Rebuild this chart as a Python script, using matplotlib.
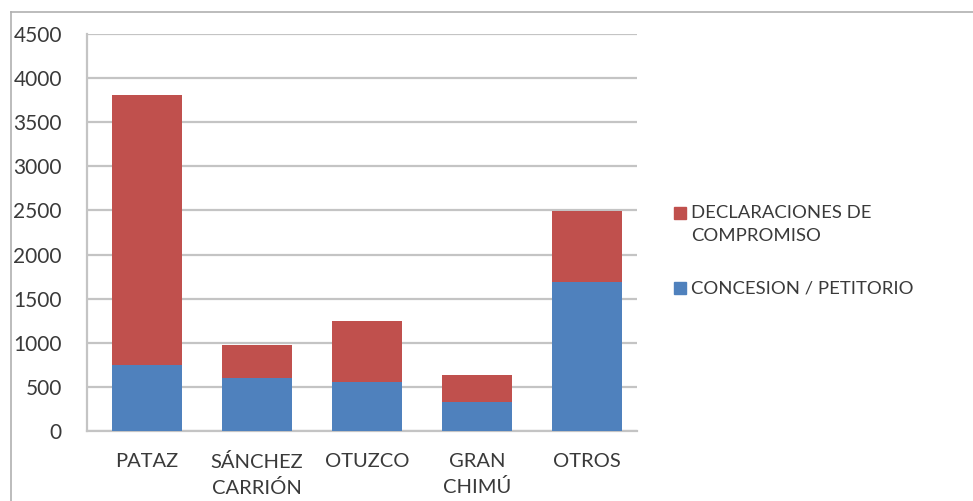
import matplotlib.pyplot as plt
from matplotlib.patches import Rectangle
from matplotlib.lines import Line2D

categories = ["PATAZ", "SÁNCHEZ\nCARRIÓN", "OTUZCO", "GRAN\nCHIMÚ", "OTROS"]
concesion = [750, 600, 560, 330, 1690]
declaraciones = [3060, 375, 690, 310, 800]
series_names = ["DECLARACIONES DE\nCOMPROMISO", "CONCESION / PETITORIO"]
colors = ["#C0504D", "#4F81BD"]
y_ticks = [0, 500, 1000, 1500, 2000, 2500, 3000, 3500, 4000, 4500]

plt.rcParams['font.family'] = ['Lato', 'DejaVu Sans']
text_color = "#3a3a3a"

W, H = 973, 501
fig = plt.figure(figsize=(W / 100, H / 100), dpi=100)
ax = fig.add_axes([87 / W, 1 - 431 / H, 550 / W, 397 / H])

x = range(len(categories))
ax.bar(x, concesion, width=0.63, color=colors[1], zorder=3)
ax.bar(x, declaraciones, width=0.63, bottom=concesion, color=colors[0], zorder=3)

ax.set_xlim(-0.545, len(categories) - 0.545)
ax.set_ylim(0, 4500)
ax.set_yticks(y_ticks)
ax.set_xticks(list(x))
ax.set_xticklabels(categories, fontsize=14.5, color=text_color, linespacing=1.5)
ax.tick_params(axis='y', length=0, labelsize=15, labelcolor=text_color, pad=18)
ax.tick_params(axis='x', length=0, labelcolor=text_color, pad=16)
ax.grid(axis='y', color="#c4c4c4", linewidth=1.6, zorder=0)
for side in ["top", "right"]:
    ax.spines[side].set_visible(False)
for side in ["left", "bottom"]:
    ax.spines[side].set_color("#c4c4c4")
    ax.spines[side].set_linewidth(1.6)

# legend drawn by hand so the square sits next to the first text line
leg_y = [213, 288]
for name, c, yy in zip(series_names, colors, leg_y):
    fig.add_artist(Rectangle((674 / W, 1 - (yy + 6) / H), 12 / W, 12 / H,
                             transform=fig.transFigure, color=c))
    fig.text(691 / W, 1 - (yy - 8) / H, name, fontsize=13.3, color=text_color,
             va='top', ha='left', linespacing=1.55)

# outer frame of the picture
fig.add_artist(Line2D([11 / W, 1], [1 - 12 / H, 1 - 12 / H], color="#b0b0b0", linewidth=1.2))
fig.add_artist(Line2D([11 / W, 11 / W], [0, 1 - 12 / H], color="#b0b0b0", linewidth=1.2))

fig.savefig("out.png", dpi=100)
